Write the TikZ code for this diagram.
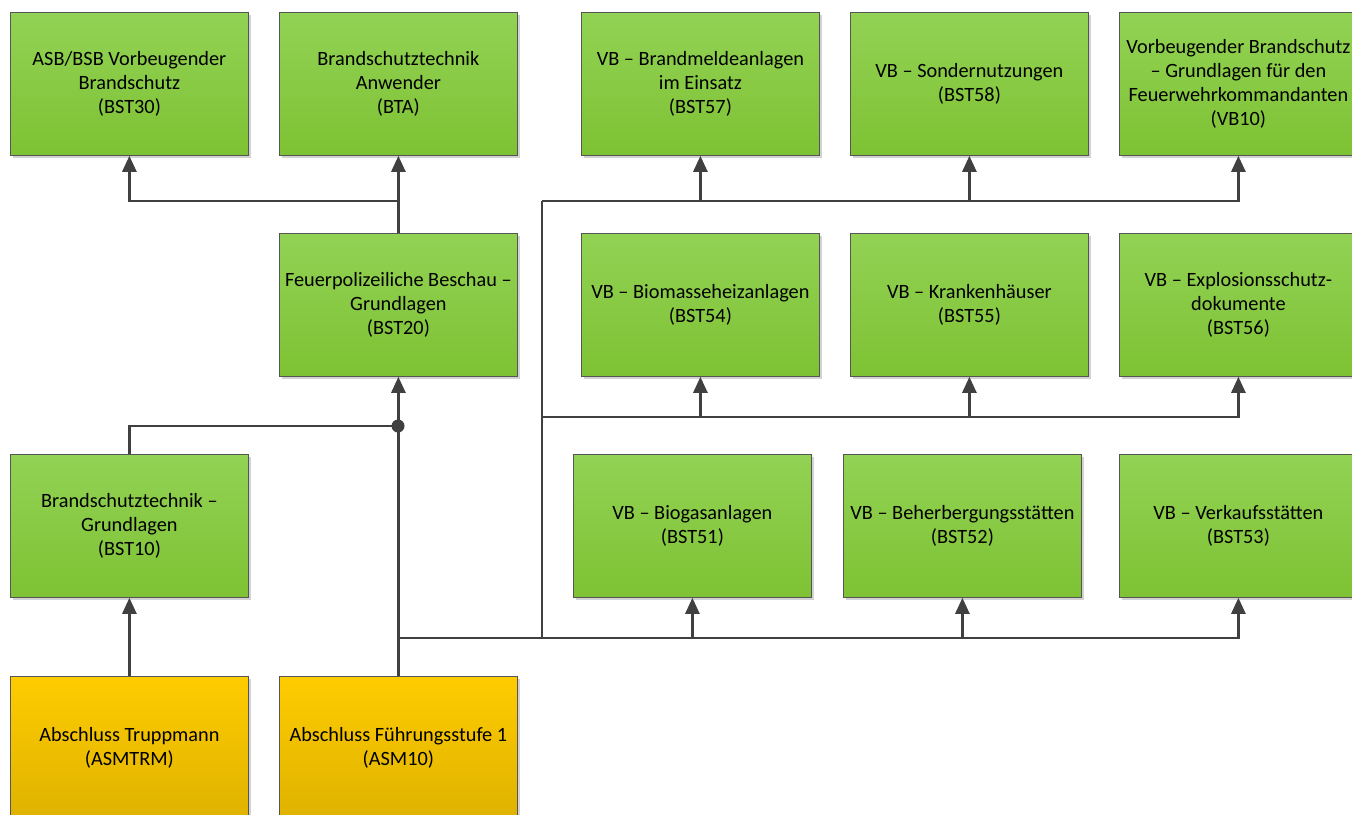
\documentclass[tikz,border=0pt]{standalone}
\usepackage{fontspec}
\setmainfont{Carlito}
\usetikzlibrary{arrows.meta,shadows}
\definecolor{gTop}{RGB}{146,210,84}
\definecolor{gBot}{RGB}{126,194,52}
\definecolor{yTop}{RGB}{255,204,0}
\definecolor{yBot}{RGB}{222,178,0}
\definecolor{edge}{RGB}{85,85,85}
\definecolor{wire}{RGB}{64,64,64}
\tikzset{
  box/.style={rectangle, anchor=north west, minimum width=238pt, minimum height=143pt,
    draw=edge, line width=0.8pt, align=center, inner sep=2pt,
    font=\fontsize{20.3}{24}\selectfont, text=black,
    drop shadow={shadow xshift=2.5pt, shadow yshift=-2.5pt, fill=black!35, opacity=0.5}},
  gbox/.style={box, top color=gTop, bottom color=gBot},
  ybox/.style={box, top color=yTop, bottom color=yBot},
  wireline/.style={draw=wire, line width=2.6pt},
  conn/.style={wireline, -{Triangle[length=16pt,width=14pt]}},
}
\begin{document}
\begin{tikzpicture}[x=1pt,y=-1pt]
\clip (0,0) rectangle (1352,814);
\fill[white] (0,0) rectangle (1352,814);
% row 1
\node[gbox] (bst30) at (10,12) {ASB/BSB Vorbeugender\\Brandschutz\\(BST30)};
\node[gbox] (bta) at (279,12) {Brandschutztechnik\\Anwender\\(BTA)};
\node[gbox] (bst57) at (581,12) {VB – Brandmeldeanlagen\\im Einsatz\\(BST57)};
\node[gbox] (bst58) at (850,12) {VB – Sondernutzungen\\(BST58)};
\node[gbox] (vb10) at (1119,12) {Vorbeugender Brandschutz\\– Grundlagen für den\\Feuerwehrkommandanten\\(VB10)};
% row 2
\node[gbox] (bst20) at (279,233) {Feuerpolizeiliche Beschau –\\Grundlagen\\(BST20)};
\node[gbox] (bst54) at (581,233) {VB – Biomasseheizanlagen\\(BST54)};
\node[gbox] (bst55) at (850,233) {VB – Krankenhäuser\\(BST55)};
\node[gbox] (bst56) at (1119,233) {VB – Explosionsschutz-\\dokumente\\(BST56)};
% row 3
\node[gbox] (bst10) at (10,454) {Brandschutztechnik –\\Grundlagen\\(BST10)};
\node[gbox] (bst51) at (573,454) {VB – Biogasanlagen\\(BST51)};
\node[gbox] (bst52) at (843,454) {VB – Beherbergungsstätten\\(BST52)};
\node[gbox] (bst53) at (1119,454) {VB – Verkaufsstätten\\(BST53)};
% row 4
\node[ybox] (asmtrm) at (10,676) {Abschluss Truppmann\\(ASMTRM)};
\node[ybox] (asm10) at (279,676) {Abschluss Führungsstufe 1\\(ASM10)};
% junctions
\coordinate (jdot) at (398,426);
\coordinate (jtop) at (398,201);
\coordinate (jbot) at (398,638);
\coordinate (busb) at (542,638);
\coordinate (busm) at (542,417);
\coordinate (bust) at (542,201);
% connectors left
\draw[conn] (asmtrm.north) -- (bst10.south);
\draw[conn] (asm10.north) -- (bst20.south);
\draw[wireline] (bst10.north) |- (jdot);
\fill[wire] (jdot) circle (6.5pt);
\draw[conn] (bst20.north) -- (bta.south);
\draw[conn] (jtop) -| (bst30.south);
% bottom bus
\draw[wireline] (jbot) -- (busb);
\draw[conn] (busb) -| (bst53.south);
\draw[conn] (bst51.south |- busb) -- (bst51.south);
\draw[conn] (bst52.south |- busb) -- (bst52.south);
% vertical bus
\draw[wireline] (busb) -- (bust);
\draw[conn] (busm) -| (bst56.south);
\draw[conn] (bst54.south |- busm) -- (bst54.south);
\draw[conn] (bst55.south |- busm) -- (bst55.south);
\draw[conn] (bust) -| (vb10.south);
\draw[conn] (bst57.south |- bust) -- (bst57.south);
\draw[conn] (bst58.south |- bust) -- (bst58.south);
\end{tikzpicture}
\end{document}
